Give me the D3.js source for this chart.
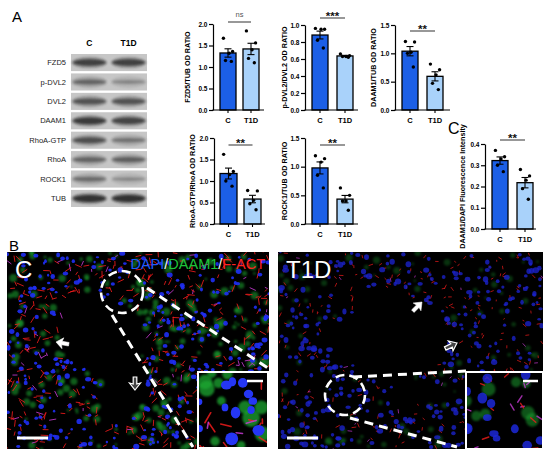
<!DOCTYPE html>
<html><head><meta charset="utf-8">
<script src="https://cdn.jsdelivr.net/npm/d3@7"></script>
<style>
body{margin:0;background:#fff}
svg{display:block;font-family:"Liberation Sans",Arial,sans-serif}
</style>
</head><body>
<svg id="fig" width="550" height="455"></svg>
<script>
// ---------------- DATA ----------------
const groups = ["C", "T1D"];
const blotLabels = ["FZD5", "p-DVL2", "DVL2", "DAAM1", "RhoA-GTP", "RhoA", "ROCK1", "TUB"];
const blotC   = [0.85, 0.55, 0.70, 0.90, 0.72, 0.55, 0.50, 0.95];
const blotT1D = [0.85, 0.30, 0.70, 0.82, 0.45, 0.60, 0.28, 0.95];

const panelTitles = ["FZD5/TUB OD RATIO", "p-DVL2/DVL2 OD RATIO", "DAAM1/TUB OD RATIO",
                     "RhoA-GTP/RhoA OD RATIO", "ROCK1/TUB OD RATIO", "DAAM1/DAPI Fluorescence Intensity"];
const yMax     = [2.0, 1.0, 1.5, 2.0, 1.5, 0.4];
const tickStep = [0.5, 0.2, 0.5, 0.5, 0.5, 0.1];
const sigLabels = ["ns", "***", "**", "**", "**", "**"];
const valuesC = [
  [1.67, 1.36, 1.32, 1.15, 1.13],
  [0.96, 0.95, 0.95, 0.82, 0.73],
  [1.21, 1.20, 1.02, 1.00, 0.76],
  [1.62, 1.22, 1.15, 1.00, 0.88],
  [1.19, 1.14, 1.08, 0.85, 0.63],
  [0.37, 0.34, 0.33, 0.30, 0.27]
];
const valuesT1D = [
  [1.84, 1.56, 1.40, 1.20, 1.10],
  [0.66, 0.64, 0.63, 0.63, 0.62],
  [0.81, 0.71, 0.62, 0.47, 0.36],
  [0.78, 0.77, 0.55, 0.47, 0.33],
  [0.63, 0.50, 0.40, 0.40, 0.24],
  [0.28, 0.25, 0.23, 0.19, 0.14]
];
const micrographLabels = ["C", "T1D"];
const stainParts = [["DAPI", "#1e5bff"], ["/", "#ffffff"], ["DAAM1", "#1fc43a"], ["/", "#ffffff"], ["F-ACT", "#ff2222"]];

// ---------------- LAYOUT ----------------
const colC = "#1c5fe6", colT = "#a9d2fa";
const layouts = [
  {ax:213, cL:220, w:16, tL:243, xEnd:264, yTop:24,  y0:110, lx:187, sy:22},
  {ax:305, cL:312, w:16, tL:337, xEnd:358, yTop:25,  y0:110, lx:284, sy:18},
  {ax:395, cL:402, w:16, tL:427, xEnd:450, yTop:25,  y0:110, lx:373, sy:31},
  {ax:214, cL:220, w:17, tL:244, xEnd:265, yTop:138, y0:224, lx:192, sy:145},
  {ax:305, cL:312, w:16, tL:337, xEnd:358, yTop:138, y0:224, lx:284, sy:145},
  {ax:485, cL:492, w:16, tL:517, xEnd:536, yTop:144, y0:229, lx:462, sy:140}
];
const jitter = [-0.22, 0.22, 0.05, -0.12, 0.16];

const svg = d3.select("#fig");
const defs = svg.append("defs");
defs.append("filter").attr("id","blur").attr("x","-30%").attr("y","-100%").attr("width","160%").attr("height","300%")
  .append("feGaussianBlur").attr("stdDeviation", 1.3);
defs.append("filter").attr("id","soft").attr("x","-50%").attr("y","-50%").attr("width","200%").attr("height","200%")
  .append("feGaussianBlur").attr("stdDeviation", 1.0);

// panel letters
svg.append("text").attr("x",12).attr("y",22).attr("font-size",15).text("A");
svg.append("text").attr("x",9).attr("y",251).attr("font-size",15).text("B");
svg.append("text").attr("x",448).attr("y",134).attr("font-size",16).text("C");

// ---------------- BLOT ----------------
const blot = svg.append("g");
const rowY = d3.scaleBand().domain(blotLabels).range([54, 207]).paddingInner(0.12);
const laneX = d3.scaleBand().domain(groups).range([71, 147]).paddingInner(0.06);
blot.selectAll("text.hdr").data(groups).join("text")
  .attr("x", d => laneX(d) + laneX.bandwidth()/2).attr("y", 46)
  .attr("text-anchor","middle").attr("font-size",8.5).attr("font-weight","bold").text(d => d);
blotLabels.forEach((lab, i) => {
  const y = rowY(lab), h = rowY.bandwidth();
  blot.append("rect").attr("x",71).attr("y",y).attr("width",76).attr("height",h).attr("fill","#c6c6c6");
  blot.append("text").attr("x",66).attr("y",y+h/2+2.7).attr("text-anchor","end")
    .attr("font-size",7.5).attr("fill","#222").text(lab);
  [[groups[0], blotC[i]], [groups[1], blotT1D[i]]].forEach(([g, v]) => {
    const cx = laneX(g) + laneX.bandwidth()/2;
    blot.append("ellipse").attr("cx",cx).attr("cy",y+h/2).attr("rx",laneX.bandwidth()*0.48).attr("ry",h*0.34)
      .attr("fill", d3.rgb(195-v*55,195-v*55,195-v*55)).attr("filter","url(#blur)");
    blot.append("ellipse").attr("cx",cx).attr("cy",y+h/2).attr("rx",laneX.bandwidth()*0.44).attr("ry",1.2+v*2.4)
      .attr("fill", d3.rgb(170-v*125,170-v*125,170-v*125)).attr("filter","url(#blur)");
  });
});

// ---------------- BAR CHARTS ----------------
const mean = a => d3.mean(a);
const sem = a => d3.deviation(a) / Math.sqrt(a.length);
layouts.forEach((L, i) => {
  const g = svg.append("g");
  const y = d3.scaleLinear().domain([0, yMax[i]]).range([L.y0, L.yTop]);
  const x = d3.scaleBand().domain(groups).range([L.cL, L.tL + L.w]).paddingInner(1 - L.w/(L.tL - L.cL));
  const series = [{g:"C", v:valuesC[i], c:colC}, {g:"T1D", v:valuesT1D[i], c:colT}];
  g.selectAll("rect.bar").data(series).join("rect")
    .attr("x", d => x(d.g)).attr("width", x.bandwidth())
    .attr("y", d => y(mean(d.v))).attr("height", d => y(0) - y(mean(d.v)))
    .attr("fill", d => d.c).attr("stroke","#000").attr("stroke-width",1.3);
  series.forEach(d => {
    const cx = x(d.g) + x.bandwidth()/2, m = mean(d.v), s = sem(d.v);
    g.append("line").attr("x1",cx).attr("x2",cx).attr("y1",y(m-s)).attr("y2",y(m+s)).attr("stroke","#000").attr("stroke-width",1.1);
    [m-s, m+s].forEach(t => g.append("line").attr("x1",cx-3.5).attr("x2",cx+3.5).attr("y1",y(t)).attr("y2",y(t))
      .attr("stroke","#000").attr("stroke-width",1.1));
    g.selectAll(null).data(d.v).join("circle")
      .attr("cx",(v,k) => cx + jitter[k]*x.bandwidth()*1.3).attr("cy", v => y(v)).attr("r",1.7).attr("fill","#000");
  });
  const ticks = d3.range(0, yMax[i] + 1e-9, tickStep[i]);
  const ya = g.append("g").attr("transform",`translate(${L.ax},0)`)
    .call(d3.axisLeft(y).tickValues(ticks).tickFormat(d3.format(".1f")).tickSize(4).tickPadding(1.5).tickSizeOuter(0));
  ya.select(".domain").attr("stroke-width",1.2);
  ya.selectAll(".tick line").attr("stroke-width",1.2);
  ya.selectAll("text").attr("font-size",6.5).attr("font-weight","bold").attr("font-family","Liberation Sans, Arial");
  g.append("line").attr("x1",L.ax-0.6).attr("x2",L.xEnd).attr("y1",L.y0).attr("y2",L.y0).attr("stroke","#000").attr("stroke-width",1.2);
  const xa = g.append("g").attr("transform",`translate(0,${L.y0})`).call(d3.axisBottom(x).tickSize(3).tickSizeOuter(0));
  xa.select(".domain").remove();
  xa.selectAll(".tick line").attr("stroke-width",1.1);
  xa.selectAll("text").attr("font-size",7.5).attr("font-weight","bold").attr("font-family","Liberation Sans, Arial").attr("dy","0.9em");
  g.append("text").attr("transform",`translate(${L.lx},${(L.y0+L.yTop)/2}) rotate(-90)`)
    .attr("text-anchor","middle").attr("dy","0.35em").attr("font-size",7.2).attr("font-weight","bold").text(panelTitles[i]);
  const c1 = x("C") + x.bandwidth()/2, c2 = x("T1D") + x.bandwidth()/2;
  g.append("line").attr("x1",c1).attr("x2",c2).attr("y1",L.sy).attr("y2",L.sy).attr("stroke","#444").attr("stroke-width",1.1);
  const isNs = sigLabels[i] === "ns";
  g.append("text").attr("x",(c1+c2)/2).attr("y", isNs ? L.sy-5 : L.sy+1.8).attr("text-anchor","middle")
    .attr("font-size", isNs ? 7.5 : 11.5).attr("font-weight", isNs ? "normal" : "bold")
    .attr("fill", isNs ? "#555" : "#111").text(sigLabels[i]);
});

// ---------------- MICROGRAPHS (decorative texture, seeded) ----------------
function lcg(seed){ let s = seed >>> 0; return () => { s = (Math.imul(s,1664525) + 1013904223) >>> 0; return s / 4294967296; }; }
function texture(g, box, lumens, n, rng, opt) {
  const inL = (px,py) => lumens.some(e => ((px-e[0])/e[2])**2 + ((py-e[1])/e[3])**2 < 1);
  const pt = () => { for (let t=0;t<30;t++){ const px = box[0]+rng()*box[2], py = box[1]+rng()*box[3]; if(!inL(px,py)) return [px,py]; } return null; };
  for (let k=0;k<n.green;k++){ const p=pt(); if(!p) continue;
    g.append("circle").attr("cx",p[0]).attr("cy",p[1]).attr("r",opt.gr[0]+rng()*opt.gr[1]).attr("fill","#1fa833").attr("opacity",opt.gop).attr("filter","url(#soft)"); }
  for (let k=0;k<n.red;k++){ const p=pt(); if(!p) continue; const a=rng()*Math.PI*2, l=opt.rl[0]+rng()*opt.rl[1];
    g.append("line").attr("x1",p[0]).attr("y1",p[1]).attr("x2",p[0]+Math.cos(a)*l).attr("y2",p[1]+Math.sin(a)*l)
      .attr("stroke", rng()<0.12 ? "#c43ad0" : "#f01c1c").attr("stroke-width",opt.rw).attr("stroke-linecap","round").attr("opacity",opt.rop); }
  for (let k=0;k<n.blue;k++){ const p=pt(); if(!p) continue; const r=opt.br[0]+rng()*opt.br[1];
    g.append("ellipse").attr("cx",p[0]).attr("cy",p[1]).attr("rx",r*(0.8+rng()*0.5)).attr("ry",r*(0.8+rng()*0.4)).attr("fill",opt.bcol).attr("opacity",opt.bop); }
}
function arrow(g, tx, ty, ang, hollow) {
  g.append("path").attr("d","M0,0 L-7,-5.5 L-6,-1.8 L-13,-1.8 L-13,1.8 L-6,1.8 L-7,5.5 Z")
    .attr("transform",`translate(${tx},${ty}) rotate(${ang})`)
    .attr("fill", hollow ? "#444" : "#fff").attr("stroke","#fff").attr("stroke-width", hollow ? 1.2 : 0.5);
}
const images = [
  {box:[7,252,262,197], lumens:[[100,335,42,36],[124,385,22,36],[82,308,26,14],[115,365,30,20]],
   n:{green:260, red:440, blue:330}, seed:11,
   opt:{gr:[1.2,2.8], gop:0.55, rl:[2,5], rw:1, rop:0.85, br:[1.3,1.2], bcol:"#1f2ff5", bop:0.9},
   inset:[198,372,70,76], circle:[122,292,21],
   lines:[[147,288,268,368],[112,315,193,447]], bar:[17,48,438], ibar:[247,263,381],
   arrows:[[56,342,190,false],[135,390,90,true]],
   inN:{green:12, red:14, blue:12},
   inOpt:{gr:[4,5], gop:0.75, rl:[4,8], rw:1.6, rop:0.85, br:[3.5,2], bcol:"#2536f5", bop:1}},
  {box:[278,252,265,197], lumens:[[402,336,48,40],[348,342,18,24],[418,392,26,13],[385,305,28,16]],
   n:{green:110, red:280, blue:360}, seed:29,
   opt:{gr:[1.2,2.5], gop:0.3, rl:[1,3], rw:1, rop:0.7, br:[1.4,1.3], bcol:"#1a22c8", bop:0.8},
   inset:[466,372,77,77], circle:[345,395,20],
   lines:[[353,377,466,371],[350,418,457,447]], bar:[287,318,438], ibar:[523,538,381],
   arrows:[[422,302,-45,false],[457,343,-25,true]],
   inN:{green:8, red:18, blue:13},
   inOpt:{gr:[3.5,4], gop:0.5, rl:[3,5], rw:1.4, rop:0.8, br:[3.5,2.5], bcol:"#1c28d8", bop:0.85}}
];
images.forEach((im, idx) => {
  const g = svg.append("g");
  const [bx,by,bw,bh] = im.box;
  const cid = "clip"+idx;
  defs.append("clipPath").attr("id",cid).append("rect").attr("x",bx).attr("y",by).attr("width",bw).attr("height",bh);
  g.append("rect").attr("x",bx).attr("y",by).attr("width",bw).attr("height",bh).attr("fill","#000");
  const tg = g.append("g").attr("clip-path",`url(#${cid})`);
  texture(tg, im.box, im.lumens, im.n, lcg(im.seed), im.opt);
  g.append("circle").attr("cx",im.circle[0]).attr("cy",im.circle[1]).attr("r",im.circle[2])
    .attr("fill","none").attr("stroke","#fff").attr("stroke-width",2.6).attr("stroke-dasharray","9,5");
  im.lines.forEach(l => g.append("line").attr("x1",l[0]).attr("y1",l[1]).attr("x2",l[2]).attr("y2",l[3])
    .attr("stroke","#fff").attr("stroke-width",3).attr("stroke-dasharray","9,6"));
  const [ix,iy,iw,ih] = im.inset;
  const icid = "iclip"+idx;
  defs.append("clipPath").attr("id",icid).append("rect").attr("x",ix).attr("y",iy).attr("width",iw).attr("height",ih);
  g.append("rect").attr("x",ix).attr("y",iy).attr("width",iw).attr("height",ih).attr("fill","#000");
  const ig = g.append("g").attr("clip-path",`url(#${icid})`);
  texture(ig, im.inset, [], im.inN, lcg(im.seed+7), im.inOpt);
  g.append("rect").attr("x",ix).attr("y",iy).attr("width",iw).attr("height",ih).attr("fill","none").attr("stroke","#fff").attr("stroke-width",2);
  g.append("line").attr("x1",im.bar[0]).attr("x2",im.bar[1]).attr("y1",im.bar[2]).attr("y2",im.bar[2]).attr("stroke","#fff").attr("stroke-width",3);
  g.append("line").attr("x1",im.ibar[0]).attr("x2",im.ibar[1]).attr("y1",im.ibar[2]).attr("y2",im.ibar[2]).attr("stroke","#fff").attr("stroke-width",2.5);
  im.arrows.forEach(a => arrow(g, a[0], a[1], a[2], a[3]));
  g.append("text").attr("x", bx + 8).attr("y", by + 26).attr("font-size",24).attr("fill","#fff").text(micrographLabels[idx]);
});
const st = svg.append("text").attr("x",265).attr("y",269).attr("text-anchor","end").attr("font-size",14.5);
stainParts.forEach(p => st.append("tspan").attr("fill",p[1]).text(p[0]));
</script>
</body></html>
